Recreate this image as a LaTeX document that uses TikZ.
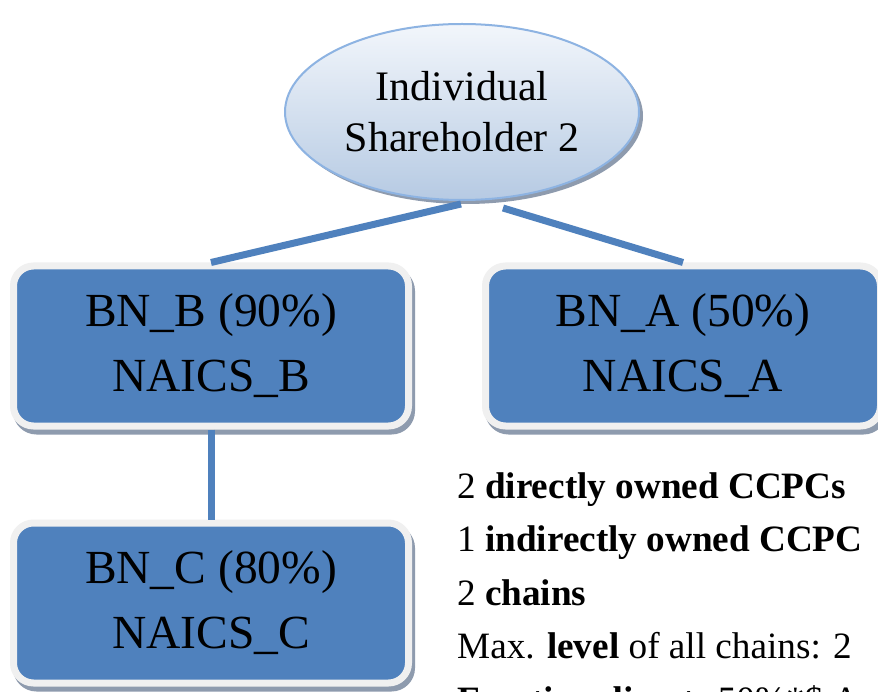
\documentclass[tikz,border=0pt]{standalone}
\usepackage{fontspec}
\setmainfont{Liberation Serif}
\usetikzlibrary{shapes.geometric,shadows}
\definecolor{boxblue}{HTML}{4F81BD}
\definecolor{boxframe}{HTML}{F0F0F0}
\definecolor{shadowgray}{HTML}{8E9BAE}
\definecolor{ellborder}{HTML}{8DB3E2}
\definecolor{elltop}{HTML}{F2F6FB}
\definecolor{ellbot}{HTML}{B6CAE3}
\begin{document}
\begin{tikzpicture}[x=1pt,y=-1pt,
  bnbox/.style={rectangle, rounded corners=20pt, fill=boxblue, draw=boxframe, line width=7pt,
    minimum width=395pt, minimum height=160pt, align=center, text=black,
    font=\fontsize{47.5}{65}\selectfont,
    drop shadow={shadow xshift=3pt, shadow yshift=-5pt, fill=shadowgray, draw=shadowgray, line width=7pt, opacity=1}},
  ellnode/.style={ellipse, minimum width=354pt, minimum height=176pt, draw=ellborder, line width=2pt,
    top color=elltop, bottom color=ellbot, align=center, inner sep=0pt,
    font=\fontsize{42}{51}\selectfont,
    drop shadow={shadow xshift=4pt, shadow yshift=-4pt, fill=shadowgray, opacity=1}},
  conn/.style={draw=boxblue, line width=7pt},
  info/.style={anchor=base west, inner sep=0pt, font=\fontsize{37.2}{46}\selectfont}
]
\clip (0,0) rectangle (878,692);
\fill[white] (0,0) rectangle (878,692);

\node[ellnode] (ell) at (462,112) {Individual\\Shareholder 2};

\node[bnbox] (b) at (211,346) {BN\_B (90\%)\\NAICS\_B};
\node[bnbox] (a) at (683,346) {BN\_A (50\%)\\NAICS\_A};
\node[bnbox] (c) at (211,603) {BN\_C (80\%)\\NAICS\_C};

\coordinate (s1) at (461,204);
\coordinate (s2) at (503,208);
\draw[conn] (s1) -- (b.north);
\draw[conn] (s2) -- (a.north);
\draw[conn] (b.south) -- (c.north);

\node[info] (t1) at (457,498) {2 \textbf{directly owned CCPCs}};
\node[info] (t2) at (457,551.5) {1 \textbf{indirectly owned CCPC}};
\node[info] (t3) at (457,605) {2 \textbf{chains}};
\node[info] (t4) at (457,658.5) {Max. \textbf{level} of all chains: 2};
\node[info] (t5) at (457,712) {\textbf{Fraction direct}: 50\%*\$ A};
\end{tikzpicture}
\end{document}
